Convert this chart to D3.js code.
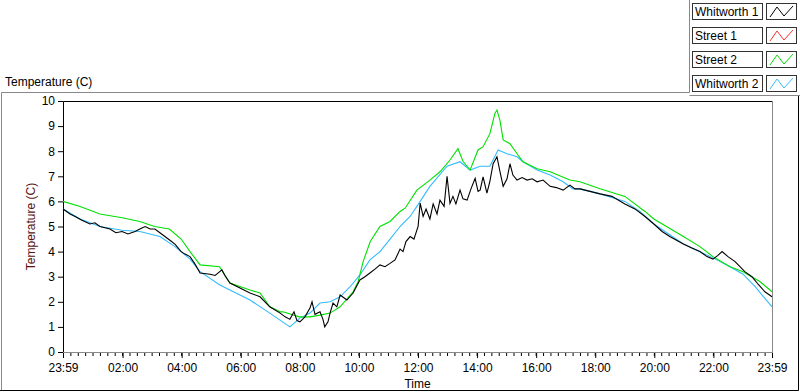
<!DOCTYPE html>
<html>
<head>
<meta charset="utf-8">
<script src="https://cdn.jsdelivr.net/npm/d3@7"></script>
<style>
body { margin: 0; background: #fff; }
text { font-family: "Liberation Sans", Arial, sans-serif; }
</style>
</head>
<body>
<svg id="chart" width="800" height="392"></svg>
<script>
// hours after 23:59 of the previous day, and temperature (C) at that reading
var seriesNames = ['Whitworth 1', 'Street 1', 'Street 2', 'Whitworth 2'];
var seriesColors = ['#000000', '#ff3030', '#00e000', '#33bbff'];

var whitworth1Hours = [0,0.24,0.41,0.64,0.91,1.08,1.25,1.42,1.59,1.79,2.0,2.2,2.44,2.6,2.78,2.95,3.11,3.28,3.45,3.62,3.79,4.0,4.13,4.3,4.47,4.64,4.98,5.15,5.38,5.48,5.65,5.99,6.33,6.67,7.0,7.35,7.52,7.68,7.82,7.92,8.02,8.19,8.36,8.43,8.53,8.7,8.8,8.86,8.97,9.04,9.14,9.27,9.38,9.61,9.82,10.05,10.22,10.39,10.56,10.73,10.9,11.07,11.24,11.41,11.51,11.61,11.75,11.88,12.02,12.09,12.19,12.29,12.42,12.53,12.66,12.76,12.9,13.0,13.1,13.2,13.3,13.44,13.54,13.68,13.81,13.95,14.05,14.12,14.22,14.35,14.45,14.56,14.69,14.79,14.9,15.03,15.13,15.23,15.37,15.54,15.71,15.88,16.05,16.25,16.49,16.7,16.93,17.16,17.33,17.5,17.84,18.18,18.58,19.02,19.36,19.7,20.0,20.28,20.54,21.0,21.27,21.56,21.8,22.0,22.17,22.31,22.51,22.75,23.08,23.32,23.53,23.76,24];
var whitworth1Temps = [5.7,5.5,5.4,5.25,5.1,5.15,5.0,4.95,4.9,4.75,4.8,4.7,4.8,4.9,5.0,4.9,4.9,4.75,4.6,4.45,4.3,4.0,3.9,3.8,3.5,3.15,3.1,3.05,3.27,3.05,2.75,2.55,2.35,2.2,1.8,1.55,1.4,1.3,1.6,1.25,1.2,1.4,1.75,2.0,1.5,1.6,1.3,1.0,1.2,1.55,1.95,1.8,2.27,2.07,2.35,2.87,3.0,3.15,3.3,3.47,3.4,3.53,3.67,4.1,4.0,4.4,4.6,4.5,5.0,5.93,5.4,5.7,5.3,5.9,5.5,6.05,5.8,7.0,5.92,6.2,5.9,6.45,6.1,6.05,6.5,6.92,6.4,6.45,6.98,6.33,6.8,7.5,7.78,7.2,6.6,6.9,7.5,7.05,6.85,6.95,6.85,6.9,6.78,6.85,6.6,6.55,6.45,6.65,6.5,6.5,6.4,6.3,6.2,5.9,5.7,5.4,5.1,4.8,4.6,4.3,4.15,4.0,3.8,3.7,3.85,4.0,3.8,3.6,3.2,3.0,2.7,2.4,2.2];

var street1Hours = [];
var street1Temps = [];

var street2Hours = [0,0.58,1.25,2.0,2.6,3.1,3.6,4.0,4.3,4.64,5.3,5.65,6.33,6.67,7.0,7.35,7.45,8.0,8.36,8.7,9.04,9.38,9.82,9.99,10.16,10.4,10.73,11.07,11.41,11.58,11.98,12.42,12.76,13.1,13.37,13.54,13.78,14.05,14.22,14.45,14.62,14.69,14.79,14.9,15.13,15.37,15.57,16.05,16.49,17.16,17.5,18.18,19.02,19.7,20.0,21.0,21.56,22.0,22.58,23.02,23.6,24];
var street2Temps = [6.0,5.8,5.5,5.35,5.2,5.0,4.9,4.5,4.0,3.47,3.4,2.75,2.47,2.35,1.8,1.6,1.6,1.4,1.4,1.47,1.55,1.8,2.4,2.8,3.6,4.4,5.0,5.2,5.6,5.73,6.45,6.85,7.18,7.65,8.1,7.6,7.25,8.05,8.18,8.7,9.5,9.64,9.24,8.45,8.3,7.9,7.58,7.3,7.18,6.85,6.78,6.5,6.2,5.6,5.3,4.6,4.2,3.8,3.4,3.2,2.8,2.4];

var whitworth2Hours = [0,0.58,1.25,2.0,2.6,3.28,3.79,4.3,4.64,5.31,6.33,7.0,7.68,8.02,8.36,8.7,9.04,9.38,9.72,10.05,10.39,10.73,11.07,11.41,11.75,12.09,12.42,13.0,13.44,13.78,14.12,14.45,14.73,15.03,15.37,15.57,16.05,16.49,16.93,17.26,17.5,18.18,19.02,19.53,20.0,21.0,22.0,22.58,23.02,23.43,24];
var whitworth2Temps = [5.7,5.3,5.0,4.85,4.8,4.6,4.2,3.7,3.2,2.67,2.07,1.55,1.0,1.35,1.55,1.95,2.0,2.2,2.6,3.07,3.67,4.0,4.5,5.0,5.4,6.0,6.6,7.4,7.58,7.25,7.4,7.4,8.05,7.9,7.78,7.58,7.25,7.05,6.78,6.5,6.5,6.3,6.0,5.6,5.1,4.3,3.75,3.4,3.1,2.6,1.8];

var yTicks = [0,1,2,3,4,5,6,7,8,9,10];

var svg = d3.select('#chart');
var t0 = new Date(2000, 0, 1, 23, 59);
var t1 = new Date(2000, 0, 2, 23, 59);
function atHour(h) { return new Date(t0.getTime() + h * 3600000); }

var x = d3.scaleTime().domain([t0, t1]).range([63, 772]);
var y = d3.scaleLinear().domain([0, 10]).range([352, 101]);

// outer frame
svg.append('path')
	.attr('d', 'M1.5,391 L1.5,92.5 L689.5,92.5 L689.5,0')
	.attr('fill', 'none').attr('stroke', '#888');
svg.append('path')
	.attr('d', 'M689.5,95.5 L800,95.5')
	.attr('fill', 'none').attr('stroke', '#888');
svg.append('path')
	.attr('d', 'M0,390.5 L798.5,390.5 L798.5,96')
	.attr('fill', 'none').attr('stroke', '#000');

svg.append('text')
	.attr('x', 5).attr('y', 86)
	.attr('font-size', '12px')
	.text('Temperature (C)');

// plot box
svg.append('rect')
	.attr('x', 63.5).attr('y', 101.5)
	.attr('width', 772 - 63).attr('height', 352 - 101)
	.attr('fill', '#fff').attr('stroke', '#888');
svg.append('path')
	.attr('d', 'M63.5,352 L63.5,101.5 L772,101.5')
	.attr('fill', 'none').attr('stroke', '#000');

// y axis
var yAxis = d3.axisLeft(y).tickValues(yTicks).tickSize(5).tickPadding(3);
var gy = svg.append('g').attr('transform', 'translate(63,0)').call(yAxis);
gy.select('.domain').remove();
gy.selectAll('text').attr('font-family', '"Liberation Sans", Arial, sans-serif').attr('font-size', '12px').attr('fill', '#000');

svg.append('text')
	.attr('transform', 'translate(35,' + ((101 + 352) / 2) + ') rotate(-90)')
	.attr('text-anchor', 'middle')
	.attr('font-size', '12px')
	.attr('fill', '#5a1010')
	.text('Temperature (C)');

// x axis: minor ticks every 15 min, labels every 2 h
var minorTicks = d3.range(0, 24 * 60 + 1, 15).map(function (m) { return new Date(t0.getTime() + m * 60000); });
var majorTicks = [t0].concat(d3.range(2, 23, 2).map(function (h) { return new Date(2000, 0, 2, h, 0); })).concat([t1]);

var gxMinor = svg.append('g').attr('transform', 'translate(0,353)')
	.call(d3.axisBottom(x).tickValues(minorTicks).tickSize(3).tickFormat(''));
gxMinor.select('.domain').remove();

var gx = svg.append('g').attr('transform', 'translate(0,353)')
	.call(d3.axisBottom(x).tickValues(majorTicks).tickSize(5).tickPadding(5).tickFormat(d3.timeFormat('%H:%M')));
gx.select('.domain').remove();
gx.selectAll('text').attr('font-family', '"Liberation Sans", Arial, sans-serif').attr('font-size', '12px').attr('fill', '#000');

svg.append('text')
	.attr('x', (63 + 772) / 2).attr('y', 388)
	.attr('text-anchor', 'middle')
	.attr('font-size', '12px')
	.text('Time');

// data lines
var allSeries = [
	[whitworth1Hours, whitworth1Temps],
	[street1Hours, street1Temps],
	[street2Hours, street2Temps],
	[whitworth2Hours, whitworth2Temps]
];
var line = d3.line()
	.x(function (d) { return x(atHour(d[0])); })
	.y(function (d) { return y(d[1]); });

var drawOrder = [1, 3, 2, 0];
drawOrder.forEach(function (k) {
	var pts = d3.zip(allSeries[k][0], allSeries[k][1]);
	if (pts.length === 0) return;
	svg.append('path')
		.datum(pts)
		.attr('d', line)
		.attr('fill', 'none')
		.attr('stroke', seriesColors[k])
		.attr('stroke-width', 1.1);
});

// legend
var legend = svg.selectAll('.leg').data(seriesNames).enter()
	.append('g').attr('class', 'leg')
	.attr('transform', function (d, i) { return 'translate(0,' + (3 + i * 24) + ')'; });
legend.append('rect')
	.attr('x', 692.5).attr('y', 0.5).attr('width', 70).attr('height', 16)
	.attr('fill', '#fff').attr('stroke', '#333');
legend.append('text')
	.attr('x', 695).attr('y', 13)
	.attr('font-size', '12px')
	.text(function (d) { return d; });
legend.append('rect')
	.attr('x', 766.5).attr('y', 0.5).attr('width', 30).attr('height', 16)
	.attr('fill', '#fff').attr('stroke', '#333');
legend.append('path')
	.attr('d', 'M770,14 L777,4 L784,13 L793,3')
	.attr('fill', 'none')
	.attr('stroke', function (d, i) { return seriesColors[i]; });
</script>
</body>
</html>
